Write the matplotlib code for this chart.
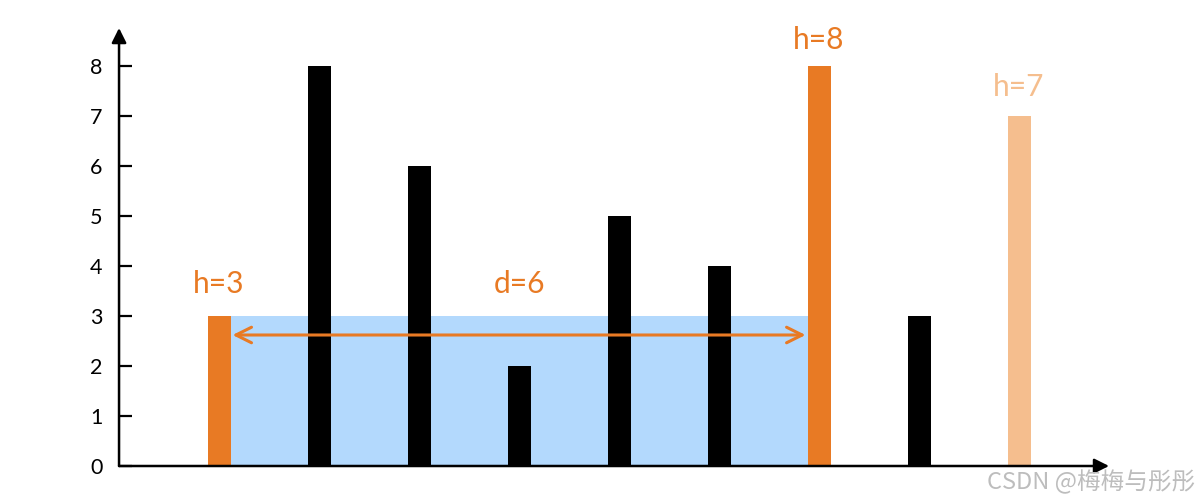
import matplotlib
matplotlib.use("Agg")
import matplotlib.pyplot as plt
from matplotlib.patches import Rectangle

# bar data
positions = [1, 2, 3, 4, 5, 6, 7, 8, 9]
heights = [3, 8, 6, 2, 5, 4, 8, 3, 7]
bar_colors = ["#e87a24", "black", "black", "black", "black", "black", "#e87a24", "black", "#f5be8e"]
yticks = [0, 1, 2, 3, 4, 5, 6, 7, 8]

# annotation: left/right walls and distance
left_i, right_i = 0, 6
water_level = 3
arrow_y = 2.62
labels = [("h=3", 1, 3.64, "#e87a24"), ("d=6", 4, 3.64, "#e87a24"),
          ("h=8", 7, 8.52, "#e87a24"), ("h=7", 9, 7.58, "#f5be8e")]

plt.rcParams["font.family"] = ["Lato", "DejaVu Sans"]
bw = 0.23

fig = plt.figure(figsize=(12, 5), dpi=100)
ax = fig.add_axes([0.0992, 0.068, 0.825, 0.876])
ax.set_xlim(0, 9.9)
ax.set_ylim(0, 8.76)

# water region between the two walls
x0 = positions[left_i] + bw / 2
x1 = positions[right_i] - bw / 2
ax.add_patch(Rectangle((x0, 0), x1 - x0, water_level, color="#b3d9fd", zorder=1, lw=0))

ax.bar(positions, heights, width=bw, color=bar_colors, zorder=2)

ax.annotate("", xy=(x1 - 0.02, arrow_y), xytext=(x0 + 0.02, arrow_y),
            arrowprops=dict(arrowstyle="<->", color="#e87a24", lw=2.2, mutation_scale=28,
                            shrinkA=0, shrinkB=0), zorder=3)

for txt, x, y, c in labels:
    ax.text(x, y, txt, color=c, fontsize=21.5, ha="center", va="center")

# axes as arrows
for s in ax.spines.values():
    s.set_visible(False)
ax.annotate("", xy=(1, 0), xytext=(0, 0), xycoords="axes fraction",
            arrowprops=dict(arrowstyle="-|>", color="black", lw=1.8, mutation_scale=22, shrinkA=0, shrinkB=0))
ax.annotate("", xy=(0, 1), xytext=(0, 0), xycoords="axes fraction",
            arrowprops=dict(arrowstyle="-|>", color="black", lw=1.8, mutation_scale=22, shrinkA=0, shrinkB=0))

ax.set_xticks([])
ax.set_yticks(yticks)
ax.tick_params(axis="y", direction="in", length=9.5, width=1.6, pad=12, labelsize=15.5)

fig.text(0.996, 0.036, "CSDN @梅梅与彤彤", color="#bdbdbd", fontsize=17, ha="right", va="center",
         family=["Noto Sans CJK SC", "DejaVu Sans"])

fig.savefig("out.png", dpi=100)
